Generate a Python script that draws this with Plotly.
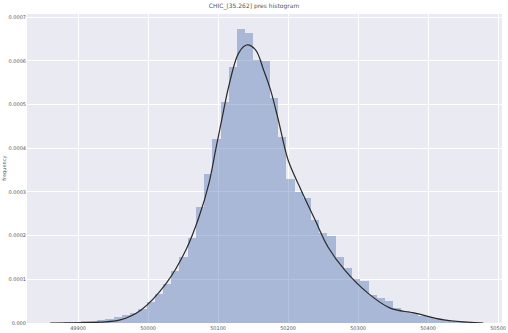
import plotly.graph_objects as go

# ---- data ----
bin_start = 49868.5
bin_width = 11.75
bar_heights = [
    0.000001, 0.000002, 0.000003, 0.000004, 0.000005, 0.000006, 0.000009,
    0.000013, 0.000018, 0.000024, 0.000032, 0.000048, 0.000066, 0.000090,
    0.000118, 0.000150, 0.000195, 0.000265, 0.000340, 0.000420, 0.000506,
    0.000585, 0.000673, 0.000664, 0.000602, 0.000600, 0.000515, 0.000426,
    0.000330, 0.000300, 0.000286, 0.000235, 0.000205, 0.000200, 0.000150,
    0.000125, 0.000100, 0.000095, 0.000065, 0.000057, 0.000050, 0.000035,
    0.000028, 0.000022, 0.000017, 0.000013, 0.000009, 0.000006, 0.000004,
    0.000003, 0.000002,
]
kde_x = [49860, 49931, 49960, 49990, 50025.6, 50054, 50072.8, 50087, 50096.5,
         50108, 50115, 50129.5, 50140.8, 50153.5, 50165, 50175, 50186, 50200,
         50218.7, 50238.5, 50257, 50281, 50313.6, 50346, 50380, 50422.7, 50479]
kde_y = [0.0, 0.000002, 0.000007, 0.00003, 0.00009, 0.000167, 0.000243,
         0.00032, 0.000396, 0.000487, 0.00054, 0.000618, 0.000636, 0.000625,
         0.000579, 0.000533, 0.000465, 0.000373, 0.000304, 0.000236, 0.000174,
         0.000121, 0.000069, 0.000034, 0.000023, 0.000007, 0.0]
x_ticks = [49900, 50000, 50100, 50200, 50300, 50400, 50500]
y_ticks = [0, 0.0001, 0.0002, 0.0003, 0.0004, 0.0005, 0.0006, 0.0007]
y_tick_text = ["0.000", "0.0001", "0.0002", "0.0003", "0.0004", "0.0005", "0.0006", "0.0007"]
title_text = "CHIC_[35.262] pres histogram"
y_title = "frequency"

bin_centers = [bin_start + bin_width * (i + 0.5) for i in range(len(bar_heights))]

fig = go.Figure()
fig.add_trace(go.Bar(
    x=bin_centers, y=bar_heights, width=[bin_width] * len(bar_heights),
    marker=dict(color="rgba(76,114,176,0.42)", line=dict(width=0)),
    hoverinfo="skip",
))
fig.add_trace(go.Scatter(
    x=kde_x, y=kde_y, mode="lines",
    line=dict(color="#2a2a2a", width=1.2, shape="spline", smoothing=1.0),
))

fig.update_layout(
    width=508, height=333,
    margin=dict(l=27, r=6, t=14, b=10, autoexpand=False),
    paper_bgcolor="white", plot_bgcolor="#EAEAF2",
    showlegend=False, bargap=0,
    title=dict(text=title_text, x=0.5, xanchor="center", y=0.99, yanchor="top",
               font=dict(size=6, color="#555", family="DejaVu Sans")),
    font=dict(family="DejaVu Sans", size=5, color="#555"),
    annotations=[dict(text=y_title, xref="paper", yref="paper", x=-0.048, y=0.5,
                      xanchor="center", yanchor="middle", textangle=-90, showarrow=False,
                      font=dict(size=5, color="#555"))],
)
fig.update_xaxes(range=[49827, 50505.6], tickvals=x_ticks, ticktext=[str(v) for v in x_ticks],
                 showgrid=True, gridcolor="white", gridwidth=1, zeroline=False,
                 showline=False, ticks="", ticklabelstandoff=1, automargin=False,
                 ticklabeloverflow="allow",
                 tickfont=dict(size=5, color="#555"))
fig.update_yaxes(range=[0, 0.000707], tickvals=y_ticks, ticktext=y_tick_text,
                 showgrid=True, gridcolor="white", gridwidth=1, zeroline=False,
                 showline=False, ticks="", automargin=False, ticklabeloverflow="allow",
                 tickfont=dict(size=5, color="#555"))

fig.write_html("out.html", config={"displayModeBar": False},
               post_script="document.body.style.margin='0';document.body.style.overflow='hidden';")
